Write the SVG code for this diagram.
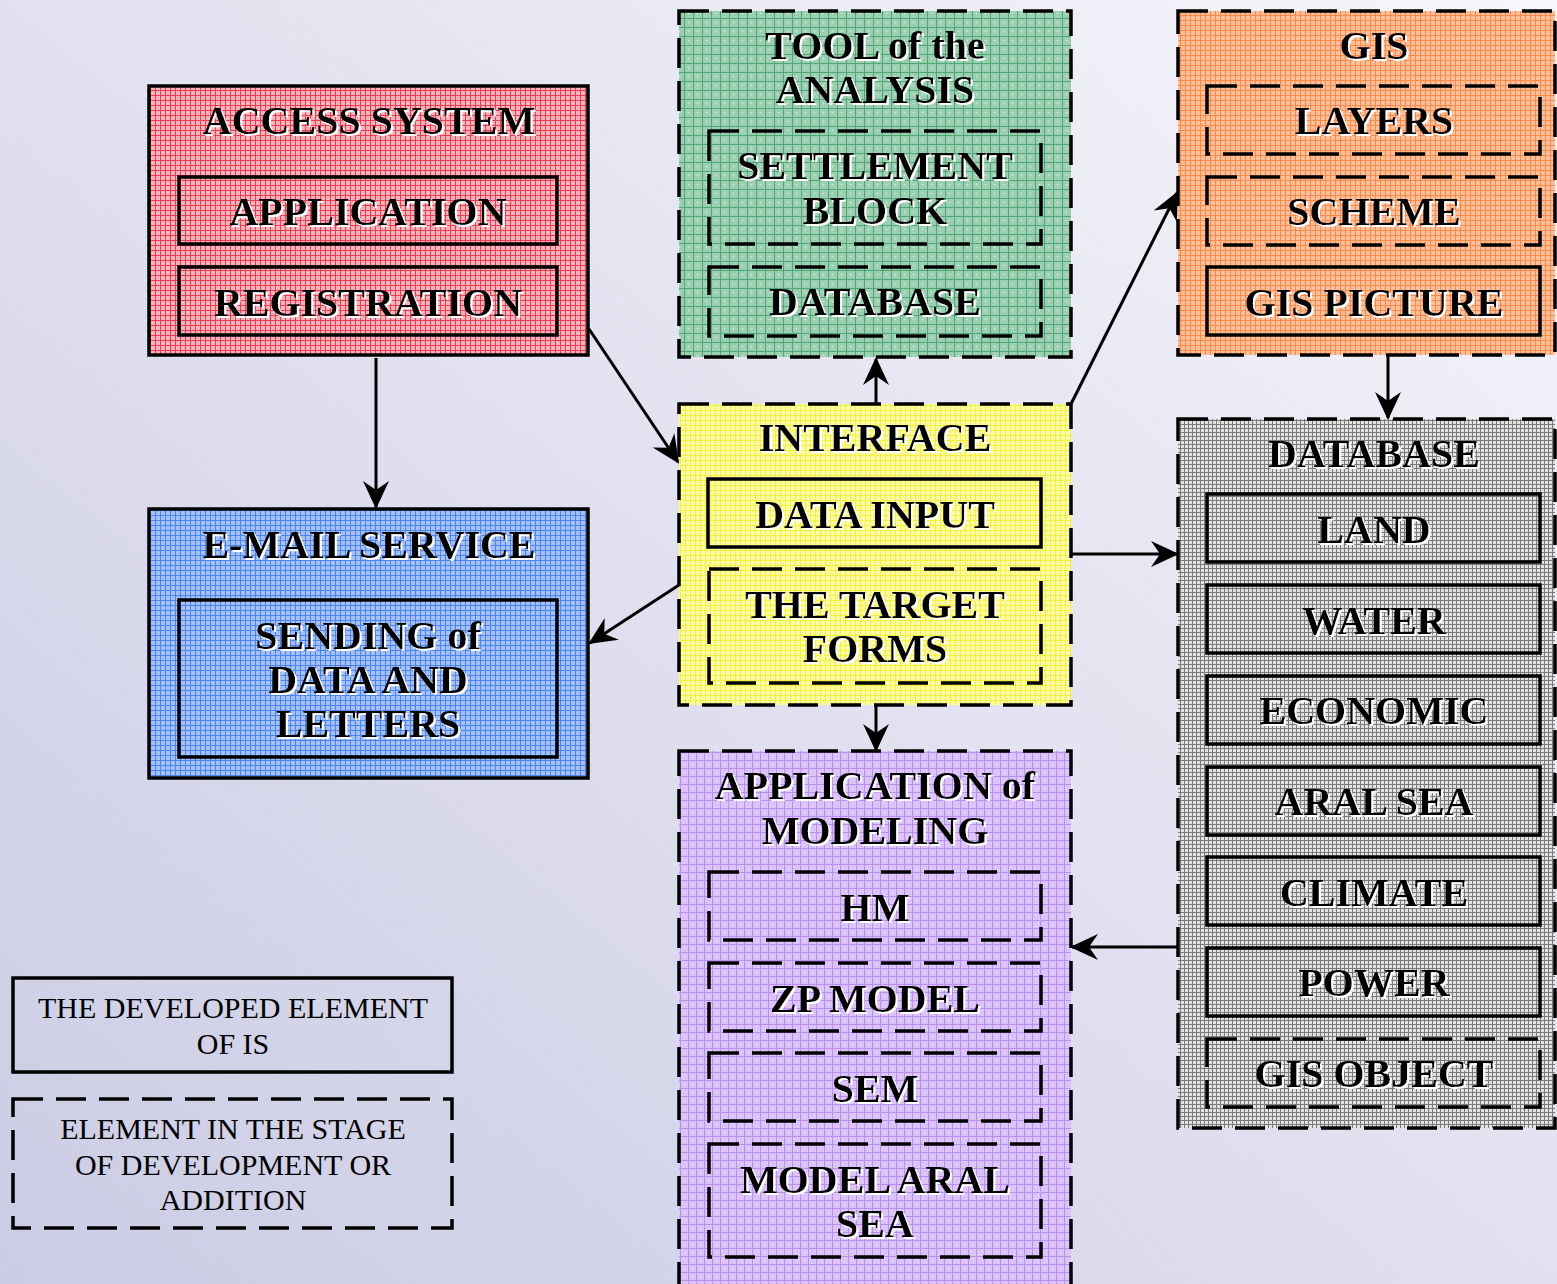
<svg xmlns="http://www.w3.org/2000/svg" width="1557" height="1284" viewBox="0 0 1557 1284">
<defs>
<linearGradient id="bg" x1="1" y1="0" x2="0" y2="1">
<stop offset="0" stop-color="#f6f6fb"/>
<stop offset="1" stop-color="#cbcbe4"/>
</linearGradient>
<pattern id="pRed" width="5" height="5" patternUnits="userSpaceOnUse">
<rect width="5" height="5" fill="#f8b4bc"/>
<path d="M0 0.5H5M0.5 0V5" stroke="#ec3c50" stroke-width="1"/>
</pattern>
<pattern id="pGreen" width="9" height="9" patternUnits="userSpaceOnUse">
<rect width="9" height="9" fill="#9ccfb2"/>
<path d="M0 0.5H9M0.5 0V9" stroke="#4fa676" stroke-width="1"/>
<circle cx="4.5" cy="4.5" r="0.8" fill="#d6f0e0"/>
</pattern>
<pattern id="pOrange" width="5" height="5" patternUnits="userSpaceOnUse">
<rect width="5" height="5" fill="#fdc09a"/>
<path d="M0 0.5H5M0.5 0V5" stroke="#fb8a48" stroke-width="1"/>
</pattern>
<pattern id="pYellow" width="5" height="5" patternUnits="userSpaceOnUse">
<rect width="5" height="5" fill="#fafaa8"/>
<path d="M0 0.5H5M0.5 0V5" stroke="#f2f23c" stroke-width="1"/>
</pattern>
<pattern id="pBlue" width="5" height="5" patternUnits="userSpaceOnUse">
<rect width="5" height="5" fill="#a4c0f6"/>
<path d="M0 0.5H5M0.5 0V5" stroke="#4a84ee" stroke-width="1"/>
</pattern>
<pattern id="pGray" width="4" height="4" patternUnits="userSpaceOnUse">
<rect width="4" height="4" fill="#e2e2e2"/>
<path d="M0 0.5H4M0.5 0V4" stroke="#7a7a7a" stroke-width="1"/>
</pattern>
<pattern id="pPurple" width="8" height="8" patternUnits="userSpaceOnUse">
<rect width="8" height="8" fill="#dcc4fa"/>
<path d="M0 0.5H8M0.5 0V8" stroke="#b890ee" stroke-width="1"/>
</pattern>
<filter id="ws" x="-5%" y="-20%" width="110%" height="140%">
<feDropShadow dx="2" dy="2" stdDeviation="0" flood-color="#ffffff" flood-opacity="1"/>
</filter>
<marker id="ah" viewBox="0 0 28 28" refX="26" refY="14" markerWidth="28" markerHeight="28" markerUnits="userSpaceOnUse" orient="auto">
<path d="M0 1 L28 14 L0 27 L9 14 Z" fill="#000"/>
</marker>
</defs>
<style>
.solid{stroke:#000;stroke-width:3.5}
.dash{stroke:#000;stroke-width:3.5;stroke-dasharray:30 13}
.nf{fill:none}
.fr{fill:url(#pRed)}
.fg{fill:url(#pGreen)}
.fo{fill:url(#pOrange)}
.fy{fill:url(#pYellow)}
.fb{fill:url(#pBlue)}
.fk{fill:url(#pGray)}
.fp{fill:url(#pPurple)}
.t{font-family:"Liberation Serif","Times New Roman",serif;font-weight:bold;font-size:40px;text-anchor:middle;fill:#000;filter:url(#ws)}
.lg{font-family:"Liberation Serif","Times New Roman",serif;font-size:30px;text-anchor:middle;fill:#000}
.c{stroke:#000;stroke-width:3;fill:none;marker-end:url(#ah)}
</style>
<rect width="1557" height="1284" fill="url(#bg)"/>

<g id="access-system">
<rect x="149" y="86" width="439" height="269" class="solid fr"/>
<text class="t" x="369" y="134">ACCESS SYSTEM</text>
<rect x="179" y="177" width="378" height="67" class="solid nf"/>
<text class="t" x="368" y="225">APPLICATION</text>
<rect x="179" y="267" width="378" height="68" class="solid nf"/>
<text class="t" x="368" y="316">REGISTRATION</text>
</g>

<g id="tool-analysis">
<rect x="679" y="11" width="392" height="346" class="dash fg"/>
<text class="t" x="875" y="59">TOOL of the</text>
<text class="t" x="875" y="103">ANALYSIS</text>
<rect x="709" y="131" width="332" height="113" class="dash nf"/>
<text class="t" x="875" y="179">SETTLEMENT</text>
<text class="t" x="875" y="224">BLOCK</text>
<rect x="709" y="267" width="332" height="69" class="dash nf"/>
<text class="t" x="875" y="315">DATABASE</text>
</g>

<g id="gis">
<rect x="1178" y="11" width="377" height="344" class="dash fo"/>
<text class="t" x="1374" y="59">GIS</text>
<rect x="1207" y="86" width="333" height="68" class="dash nf"/>
<text class="t" x="1374" y="134">LAYERS</text>
<rect x="1207" y="177" width="333" height="68" class="dash nf"/>
<text class="t" x="1374" y="225">SCHEME</text>
<rect x="1207" y="267" width="333" height="68" class="solid nf"/>
<text class="t" x="1374" y="316">GIS PICTURE</text>
</g>

<g id="interface">
<rect x="679" y="404" width="392" height="301" class="dash fy"/>
<text class="t" x="875" y="451">INTERFACE</text>
<rect x="708" y="479" width="333" height="68" class="solid nf"/>
<text class="t" x="875" y="528">DATA INPUT</text>
<rect x="709" y="569" width="332" height="114" class="dash nf"/>
<text class="t" x="875" y="618">THE TARGET</text>
<text class="t" x="875" y="662">FORMS</text>
</g>

<g id="email-service">
<rect x="149" y="509" width="439" height="269" class="solid fb"/>
<text class="t" x="369" y="558">E-MAIL SERVICE</text>
<rect x="179" y="600" width="378" height="157" class="solid nf"/>
<text class="t" x="368" y="649">SENDING of</text>
<text class="t" x="368" y="693">DATA AND</text>
<text class="t" x="368" y="737">LETTERS</text>
</g>

<g id="database">
<rect x="1178" y="419" width="377" height="709" class="dash fk"/>
<text class="t" x="1374" y="467">DATABASE</text>
<rect x="1207" y="494" width="333" height="68" class="solid nf"/>
<text class="t" x="1374" y="543">LAND</text>
<rect x="1207" y="585" width="333" height="68" class="solid nf"/>
<text class="t" x="1374" y="634">WATER</text>
<rect x="1207" y="676" width="333" height="68" class="solid nf"/>
<text class="t" x="1374" y="724">ECONOMIC</text>
<rect x="1207" y="767" width="333" height="68" class="solid nf"/>
<text class="t" x="1374" y="815">ARAL SEA</text>
<rect x="1207" y="857" width="333" height="68" class="solid nf"/>
<text class="t" x="1374" y="906">CLIMATE</text>
<rect x="1207" y="948" width="333" height="68" class="solid nf"/>
<text class="t" x="1374" y="996">POWER</text>
<rect x="1207" y="1039" width="333" height="68" class="dash nf"/>
<text class="t" x="1374" y="1087">GIS OBJECT</text>
</g>

<g id="application-modeling">
<rect x="679" y="751" width="392" height="545" class="dash fp"/>
<text class="t" x="875" y="799">APPLICATION of</text>
<text class="t" x="875" y="844">MODELING</text>
<rect x="709" y="872" width="332" height="68" class="dash nf"/>
<text class="t" x="875" y="921">HM</text>
<rect x="709" y="963" width="332" height="68" class="dash nf"/>
<text class="t" x="875" y="1012">ZP MODEL</text>
<rect x="709" y="1053" width="332" height="68" class="dash nf"/>
<text class="t" x="875" y="1102">SEM</text>
<rect x="709" y="1144" width="332" height="113" class="dash nf"/>
<text class="t" x="875" y="1193">MODEL ARAL</text>
<text class="t" x="875" y="1237">SEA</text>
</g>

<g id="legend-developed">
<rect x="13" y="978" width="439" height="94" class="solid nf"/>
<text class="lg" x="233" y="1018">THE DEVELOPED ELEMENT</text>
<text class="lg" x="233" y="1054">OF IS</text>
</g>
<g id="legend-in-development">
<rect x="13" y="1099" width="439" height="129" class="dash nf"/>
<text class="lg" x="233" y="1139">ELEMENT IN THE STAGE</text>
<text class="lg" x="233" y="1175">OF DEVELOPMENT OR</text>
<text class="lg" x="233" y="1210">ADDITION</text>
</g>

<g id="connectors">
<line class="c" x1="376" y1="358" x2="376" y2="507"/>
<line class="c" x1="589" y1="329" x2="678" y2="462"/>
<line class="c" x1="876" y1="404" x2="876" y2="359"/>
<line class="c" x1="1071" y1="404" x2="1177" y2="193"/>
<line class="c" x1="1388" y1="355" x2="1388" y2="418"/>
<line class="c" x1="1071" y1="554" x2="1177" y2="554"/>
<line class="c" x1="679" y1="585" x2="590" y2="643"/>
<line class="c" x1="876" y1="705" x2="876" y2="750"/>
<line class="c" x1="1178" y1="947" x2="1072" y2="947"/>
</g>
</svg>
